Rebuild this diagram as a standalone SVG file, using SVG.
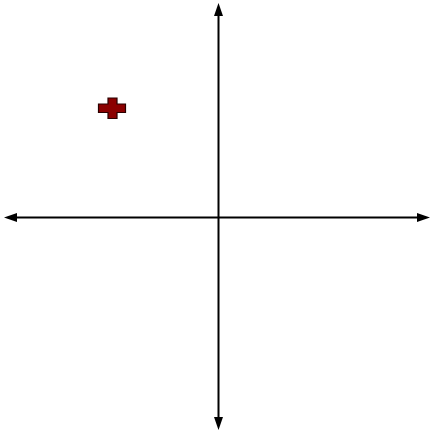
<svg xmlns="http://www.w3.org/2000/svg" width="430" height="431" viewBox="0 0 430 431">
<defs>
<style>
.axis{stroke:#000;stroke-width:2;fill:none}
.head{fill:#000}
.cross{fill:#8B0000;stroke:#2a0000;stroke-width:1.2}
</style>
</defs>
<rect width="430" height="431" fill="#fff"/>
<g id="connectors">
<line class="axis" x1="218.5" y1="14" x2="218.5" y2="419"/>
<polygon class="head" points="218.5,3 223,16 214,16"/>
<polygon class="head" points="218.5,430 223,417 214,417"/>
<line class="axis" x1="15" y1="217.5" x2="420" y2="217.5"/>
<polygon class="head" points="4,217.5 17,213 17,222"/>
<polygon class="head" points="430,217.5 417,213 417,222"/>
</g>
<g id="cross">
<polygon class="cross" points="108,98 117,98 117,104 125.5,104 125.5,112.5 117,112.5 117,118.5 108,118.5 108,112.5 98.5,112.5 98.5,104 108,104"/>
</g>
</svg>
